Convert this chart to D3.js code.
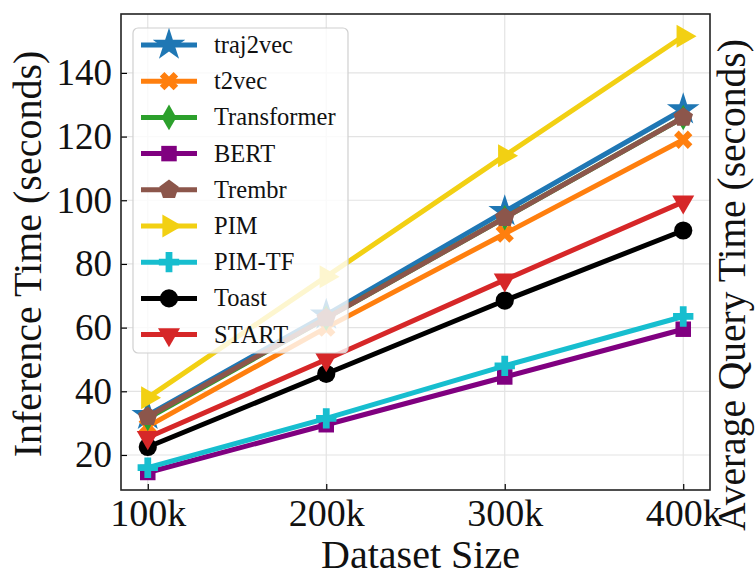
<!DOCTYPE html>
<html>
<head>
<meta charset="utf-8">
<script src="https://cdn.jsdelivr.net/npm/d3@7"></script>
<style>
  html, body { margin: 0; padding: 0; background: #fff; }
  svg { display: block; font-family: "Liberation Serif", "Times New Roman", serif; }
</style>
</head>
<body>
<svg id="chart" width="756" height="577"></svg>
<script>
// Dataset sizes (thousands of trajectories)
const sizes = [100, 200, 300, 400];
const xTickLabels = ["100k", "200k", "300k", "400k"];
const yTicks = [20, 40, 60, 80, 100, 120, 140];

// Inference time (seconds) per method
const methods = ["traj2vec", "t2vec", "Transformer", "BERT", "Trembr", "PIM", "PIM-TF", "Toast", "START"];
const traj2vec    = [32.5, 64, 96.5, 128.5];
const t2vec       = [29, 60, 89.5, 119];
const transformer = [31.5, 63, 94.5, 126];
const bert        = [14.5, 29.5, 44.5, 59.5];
const trembr      = [32, 63, 94.5, 126];
const pim         = [38, 76, 114, 151.5];
const pimTf       = [16, 31.5, 48, 63.5];
const toast       = [22.5, 45.5, 68.5, 90.5];
const start       = [25.5, 50, 75, 99.5];
const values = [traj2vec, t2vec, transformer, bert, trembr, pim, pimTf, toast, start];

const colors = ["#1f77b4", "#ff7f0e", "#2ca02c", "#800080", "#8c564b", "#f2d013", "#17becf", "#000000", "#d62728"];

// Marker shapes (d3 symbol, area, rotation)
const pentagon = {
  draw(ctx, size) {
    const r = Math.sqrt(size / 2.378);
    for (let i = 0; i < 5; i++) {
      const a = -Math.PI / 2 + i * 2 * Math.PI / 5;
      const px = r * Math.cos(a), py = r * Math.sin(a);
      if (i === 0) ctx.moveTo(px, py); else ctx.lineTo(px, py);
    }
    ctx.closePath();
  }
};
const markers = [
  { type: d3.symbolStar,     size: 330, rot: 0 },
  { type: d3.symbolCross,    size: 210, rot: 45 },
  { type: d3.symbolDiamond,  size: 190, rot: 0 },
  { type: d3.symbolSquare,   size: 240, rot: 0 },
  { type: pentagon,          size: 250, rot: 0 },
  { type: d3.symbolTriangle, size: 230, rot: 90 },
  { type: d3.symbolCross,    size: 230, rot: 0 },
  { type: d3.symbolCircle,   size: 260, rot: 0 },
  { type: d3.symbolTriangle, size: 210, rot: 180 }
];

const svg = d3.select("#chart");
const plotL = 121, plotR = 710, plotT = 14, plotB = 490;

const x = d3.scaleLinear().domain([85, 415]).range([plotL, plotR]);
const y = d3.scaleLinear().domain([9, 158.5]).range([plotB, plotT]);

// Grid
const grid = svg.append("g");
grid.selectAll("line.gy").data(yTicks).join("line")
  .attr("x1", plotL).attr("x2", plotR)
  .attr("y1", d => y(d)).attr("y2", d => y(d))
  .attr("stroke", "#e3e3e3").attr("stroke-width", 1.2);
grid.selectAll("line.gx").data(sizes).join("line")
  .attr("y1", plotT).attr("y2", plotB)
  .attr("x1", d => x(d)).attr("x2", d => x(d))
  .attr("stroke", "#e3e3e3").attr("stroke-width", 1.2);

// Series lines and markers
const line = d3.line().x((d, i) => x(sizes[i])).y(d => y(d));
const series = svg.append("g");
values.forEach((vals, k) => {
  const g = series.append("g");
  g.append("path").datum(vals)
    .attr("d", line).attr("fill", "none")
    .attr("stroke", colors[k]).attr("stroke-width", 5)
    .attr("stroke-linejoin", "round");
  const m = markers[k];
  g.selectAll("path.m").data(vals).join("path")
    .attr("d", d3.symbol().type(m.type).size(m.size))
    .attr("transform", (d, i) => `translate(${x(sizes[i])},${y(d)}) rotate(${m.rot})`)
    .attr("fill", colors[k]);
});

// Axes
const yAxis = d3.axisLeft(y).tickValues(yTicks).tickSize(-6).tickPadding(9);
const gy = svg.append("g").attr("transform", `translate(${plotL},0)`).call(yAxis);
gy.select(".domain").remove();
gy.selectAll("line").attr("stroke", "#000").attr("stroke-width", 1.2);
gy.selectAll("text").attr("font-size", 37).attr("fill", "#111")
  .attr("font-family", "Liberation Serif, Times New Roman, serif");

const xAxis = d3.axisBottom(x).tickValues(sizes).tickFormat((d, i) => xTickLabels[i]).tickSize(-6).tickPadding(9);
const gx = svg.append("g").attr("transform", `translate(0,${plotB})`).call(xAxis);
gx.select(".domain").remove();
gx.selectAll("line").attr("stroke", "#000").attr("stroke-width", 1.2);
gx.selectAll("text").attr("font-size", 38).attr("fill", "#111")
  .attr("font-family", "Liberation Serif, Times New Roman, serif");

// Frame
svg.append("rect").attr("x", plotL).attr("y", plotT)
  .attr("width", plotR - plotL).attr("height", plotB - plotT)
  .attr("fill", "none").attr("stroke", "#222").attr("stroke-width", 1.6);

// Axis titles
svg.append("text").attr("x", (plotL + plotR) / 2 + 5).attr("y", 568)
  .attr("text-anchor", "middle").attr("font-size", 40).attr("fill", "#111")
  .text("Dataset Size");
svg.append("text").attr("transform", `translate(41,254) rotate(-90)`)
  .attr("text-anchor", "middle").attr("font-size", 40).attr("fill", "#111")
  .text("Inference Time (seconds)");
svg.append("text").attr("transform", `translate(745,285) rotate(-90)`)
  .attr("text-anchor", "middle").attr("font-size", 39.5).attr("fill", "#111")
  .text("Average Query Time (seconds)");

// Legend
const legend = svg.append("g");
legend.append("rect").attr("x", 133).attr("y", 28).attr("width", 215).attr("height", 325)
  .attr("rx", 5).attr("fill", "#fff").attr("fill-opacity", 0.8)
  .attr("stroke", "#d0d0d0").attr("stroke-width", 1.2);
methods.forEach((name, k) => {
  const ly = 45 + k * 36.2;
  legend.append("line").attr("x1", 141).attr("x2", 197).attr("y1", ly).attr("y2", ly)
    .attr("stroke", colors[k]).attr("stroke-width", 5);
  const m = markers[k];
  legend.append("path")
    .attr("d", d3.symbol().type(m.type).size(m.size))
    .attr("transform", `translate(169,${ly}) rotate(${m.rot})`)
    .attr("fill", colors[k]);
  legend.append("text").attr("x", 214).attr("y", ly + 8)
    .attr("font-size", 24.5).attr("fill", "#111").text(name);
});
</script>
</body>
</html>
